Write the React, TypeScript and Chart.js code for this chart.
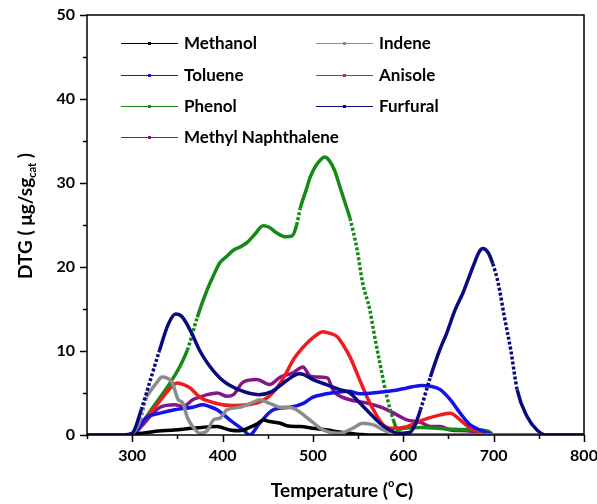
import { useEffect, useRef } from "react";
import { Chart, registerables } from "chart.js";

Chart.register(...registerables);

// ---- data (Temperature °C, DTG µg/s g_cat) ----
const methanolT = [250, 298, 310, 323, 347, 367, 394, 408, 419, 430, 438, 445, 452, 464, 471, 486, 500, 516, 527, 540, 550, 560, 800];
const methanolV = [0, 0, 0.2, 0.4, 0.6, 0.8, 1.0, 0.6, 0.5, 0.9, 1.3, 1.8, 1.6, 1.4, 1.1, 1.0, 0.8, 0.6, 0.4, 0.2, 0.1, 0, 0];

const indeneT = [250, 298, 303, 309, 316, 322, 327, 333, 338, 344, 351, 356, 361, 367, 375, 383, 390, 397, 405, 419, 434, 441, 449, 456, 464, 471, 478, 486, 493, 500, 508, 519, 530, 544, 555, 567, 578, 590, 600, 800];
const indeneV = [0, 0, 0.5, 1.8, 4.5, 5.5, 6.2, 6.9, 6.8, 6.3, 4.2, 3.8, 2.1, 1.0, 0.2, 0.5, 1.8, 2.0, 3.0, 3.3, 3.9, 4.2, 3.9, 3.6, 3.3, 3.3, 3.2, 2.7, 2.1, 1.5, 0.8, 0.3, 0.2, 0.8, 1.4, 1.2, 0.6, 0.1, 0, 0];

const tolueneT = [250, 298, 305, 316, 331, 347, 367, 378, 385, 394, 408, 423, 430, 441, 456, 475, 490, 500, 515, 527, 540, 552, 574, 590, 604, 620, 630, 641, 652, 663, 674, 685, 692, 700, 800];
const tolueneV = [0, 0, 0.6, 2.1, 2.6, 3.0, 3.3, 3.6, 3.4, 3.0, 1.8, 0.6, 0, 1.4, 3.0, 3.3, 3.8, 4.5, 4.9, 5.1, 5.2, 4.9, 5.1, 5.3, 5.6, 5.9, 5.8, 5.4, 4.2, 2.6, 1.2, 0.6, 0.3, 0, 0];

const anisoleT = [250, 298, 305, 320, 334, 343, 350, 357, 364, 375, 383, 400, 415, 427, 440, 449, 457, 464, 471, 478, 488, 497, 505, 511, 519, 527, 533, 541, 552, 560, 567, 578, 589, 604, 622, 641, 652, 663, 674, 685, 696, 700, 800];
const anisoleV = [0, 0, 0.8, 2.6, 4.5, 5.7, 6.2, 6.0, 5.6, 4.5, 4.1, 3.6, 3.5, 3.6, 3.9, 4.4, 5.2, 6.2, 7.5, 8.9, 10.3, 11.3, 12.0, 12.3, 12.1, 11.7, 10.8, 9.3, 6.5, 4.5, 3.0, 1.2, 0.8, 1.0, 1.8, 2.4, 2.6, 1.8, 0.8, 0.4, 0.1, 0, 0];

const phenolT = [250, 298, 300, 310, 323, 342, 352, 361, 372, 383, 390, 397, 405, 412, 420, 427, 435, 445, 452, 458, 464, 470, 477, 482, 486, 492, 497, 503, 508, 513, 518, 524, 530, 536, 541, 549, 555, 563, 567, 574, 582, 589, 594, 600, 620, 650, 680, 695, 700, 800];
const phenolV = [0, 0, 0.1, 1.3, 3.3, 6.2, 8.0, 10.1, 14.0, 17.3, 19.0, 20.5, 21.3, 22.0, 22.4, 22.9, 23.8, 24.9, 24.7, 24.2, 23.8, 23.6, 23.7, 25.0, 27.0, 29.0, 30.7, 32.0, 32.7, 33.1, 32.7, 31.5, 29.5, 27.5, 25.8, 22.0, 18.1, 14.9, 12.5, 8.6, 4.5, 1.8, 0.6, 0.8, 0.9, 0.7, 0.6, 0.4, 0, 0];

const furfuralT = [250, 290, 300, 310, 320, 330, 340, 348, 355, 365, 375, 385, 400, 420, 440, 455, 470, 485, 490, 500, 515, 530, 541, 552, 563, 574, 585, 595, 607, 613, 619, 630, 641, 648, 657, 666, 677, 684, 688, 694, 699, 705, 712, 719, 726, 737, 748, 758, 800];
const furfuralV = [0, 0, 0.2, 3.0, 6.5, 10.0, 13.2, 14.4, 14.1, 12.3, 10.0, 8.3, 6.5, 5.3, 4.8, 5.2, 6.4, 7.3, 7.2, 6.6, 6.0, 5.4, 5.0, 3.8, 2.6, 1.4, 0.6, 0.2, 0.3, 1.2, 3.0, 6.9, 10.3, 12.1, 14.8, 16.9, 20.0, 21.8, 22.2, 21.7, 20.4, 18.1, 14.0, 10.1, 5.4, 2.2, 0.6, 0, 0];

const methylNaphT = [250, 300, 310, 323, 331, 347, 357, 367, 375, 383, 394, 405, 412, 423, 438, 452, 464, 478, 489, 497, 504, 516, 522, 527, 541, 560, 578, 593, 604, 619, 630, 641, 652, 670, 685, 696, 800];
const methylNaphV = [0, 0, 1.0, 2.6, 3.3, 3.6, 3.4, 4.2, 4.5, 4.8, 5.0, 4.6, 4.8, 6.3, 6.6, 6.0, 6.9, 7.4, 8.1, 7.0, 6.9, 6.8, 5.4, 4.8, 4.2, 3.8, 3.2, 2.4, 1.8, 1.5, 1.0, 1.0, 0.6, 0.5, 0.3, 0, 0];

const seriesNames = ["Methanol", "Indene", "Toluene", "Anisole", "Phenol", "Furfural", "Methyl Naphthalene"];
const seriesColors = ["#000000", "#8c8c8c", "#1414e6", "#ee1c1c", "#168a16", "#0a0a80", "#84168a"];
const xTickValues = [300, 400, 500, 600, 700, 800];
const yTickValues = [0, 10, 20, 30, 40, 50];

const FONT = "Lato, 'Open Sans', 'DejaVu Sans', sans-serif";

export default function App() {
  const ref = useRef<HTMLCanvasElement>(null);

  useEffect(() => {
    const temps = [methanolT, indeneT, tolueneT, anisoleT, phenolT, furfuralT, methylNaphT];
    const vals = [methanolV, indeneV, tolueneV, anisoleV, phenolV, furfuralV, methylNaphV];
    const drawOrder = [2, 1, 3, 4, 5, 0, 6];

    const datasets = seriesNames.map((name, i) => ({
      label: name,
      data: temps[i].map((t, k) => ({ x: t, y: vals[i][k] })),
      borderColor: seriesColors[i],
      backgroundColor: seriesColors[i],
      borderWidth: 3.5,
      pointRadius: 0,
      cubicInterpolationMode: "monotone" as const,
      fill: false,
      order: drawOrder[i],
      segment: {
        borderDash: (c: any) => {
          const dx = Math.abs(c.p1.x - c.p0.x);
          const dy = Math.abs(c.p1.y - c.p0.y);
          return dy > 3.2 * dx ? [3, 2] : undefined;
        },
      },
    }));

    const frame = {
      id: "frame",
      afterDraw(chart: any) {
        const ctx = chart.ctx as CanvasRenderingContext2D;
        const a = chart.chartArea;
        const xs = chart.scales.x;
        const ys = chart.scales.y;
        ctx.save();
        ctx.strokeStyle = "#000";
        ctx.lineWidth = 1.5;
        ctx.strokeRect(a.left, a.top, a.right - a.left, a.bottom - a.top);
        ctx.lineWidth = 1.5;
        ctx.beginPath();
        for (let v = 0; v <= 50; v += 5) {
          const y = Math.round(ys.getPixelForValue(v)) + 0.5;
          const len = v % 10 === 0 ? 7 : 4;
          ctx.moveTo(a.left - len, y);
          ctx.lineTo(a.left, y);
        }
        for (let v = 250; v <= 800; v += 50) {
          const x = Math.round(xs.getPixelForValue(v)) + 0.5;
          const len = v % 100 === 0 ? 7 : 4;
          ctx.moveTo(x, a.bottom);
          ctx.lineTo(x, a.bottom + len);
        }
        ctx.stroke();

        // legend
        const legendPos = [
          [121, 43], [316, 43], [121, 75], [316, 75], [121, 106], [316, 106], [121, 137],
        ];
        ctx.font = `bold 17px ${FONT}`;
        ctx.textBaseline = "middle";
        ctx.textAlign = "left";
        seriesNames.forEach((name, i) => {
          const [lx, ly] = legendPos[i];
          ctx.strokeStyle = seriesColors[i];
          ctx.lineWidth = 1;
          ctx.beginPath();
          ctx.moveTo(lx, ly + 0.5);
          ctx.lineTo(lx + 57, ly + 0.5);
          ctx.stroke();
          ctx.fillStyle = seriesColors[i];
          ctx.fillRect(lx + 27, ly - 1, 3, 3);
          ctx.fillStyle = "#000";
          ctx.fillText(name, lx + 63, ly + 1);
        });

        // x title
        ctx.fillStyle = "#000";
        const big = `bold 19px ${FONT}`;
        const small = `bold 11px ${FONT}`;
        ctx.textBaseline = "alphabetic";
        const p1 = "Temperature (";
        const p2 = "o";
        const p3 = "C)";
        ctx.font = big;
        const w1 = ctx.measureText(p1).width;
        const w3 = ctx.measureText(p3).width;
        ctx.font = small;
        const w2 = ctx.measureText(p2).width;
        const x0 = 342 - (w1 + w2 + w3 + 1) / 2;
        const by = 497;
        ctx.font = big;
        ctx.fillText(p1, x0, by);
        ctx.font = small;
        ctx.fillText(p2, x0 + w1, by - 10);
        ctx.font = big;
        ctx.fillText(p3, x0 + w1 + w2 + 1, by);

        // y title
        ctx.save();
        ctx.translate(32, 216);
        ctx.rotate(-Math.PI / 2);
        const q1 = "DTG ( \u03bcg/sg";
        const q2 = "cat";
        const q3 = " )";
        ctx.font = big;
        const v1 = ctx.measureText(q1).width;
        const v3 = ctx.measureText(q3).width;
        ctx.font = small;
        const v2 = ctx.measureText(q2).width;
        const s0 = -(v1 + v2 + v3) / 2;
        ctx.font = big;
        ctx.fillText(q1, s0, 0);
        ctx.font = small;
        ctx.fillText(q2, s0 + v1, 4);
        ctx.font = big;
        ctx.fillText(q3, s0 + v1 + v2, 0);
        ctx.restore();

        ctx.restore();
      },
    };

    const chart = new Chart(ref.current!, {
      type: "line",
      data: { datasets },
      options: {
        animation: false,
        responsive: false,
        maintainAspectRatio: false,
        layout: { padding: { top: 15, right: 13, left: 0, bottom: 0 } },
        plugins: { legend: { display: false }, tooltip: { enabled: false } },
        scales: {
          x: {
            type: "linear",
            min: 250,
            max: 800,
            afterFit: (s: any) => {
              s.height = 69;
              s.paddingLeft = 0;
              s.paddingRight = 0;
            },
            grid: { display: false, drawTicks: false },
            border: { display: false },
            afterBuildTicks: (s: any) => {
              s.ticks = xTickValues.map((v) => ({ value: v }));
            },
            ticks: {
              font: { family: FONT, size: 16, weight: "bold" },
              color: "#000",
              padding: 11,
              maxRotation: 0,
              autoSkip: false,
            },
          },
          y: {
            type: "linear",
            min: 0,
            max: 50,
            afterFit: (s: any) => {
              s.width = 87;
              s.paddingTop = 0;
              s.paddingBottom = 0;
            },
            grid: { display: false, drawTicks: false },
            border: { display: false },
            afterBuildTicks: (s: any) => {
              s.ticks = yTickValues.map((v) => ({ value: v }));
            },
            ticks: {
              font: { family: FONT, size: 16, weight: "bold" },
              color: "#000",
              padding: 12,
            },
          },
        },
      },
      plugins: [frame],
    });
    return () => chart.destroy();
  }, []);

  return (
    <div style={{ position: "absolute", left: 0, top: 0, width: 597, height: 504, background: "#fff" }}>
      <canvas ref={ref} width={597} height={504} style={{ width: 597, height: 504, display: "block" }} />
    </div>
  );
}
